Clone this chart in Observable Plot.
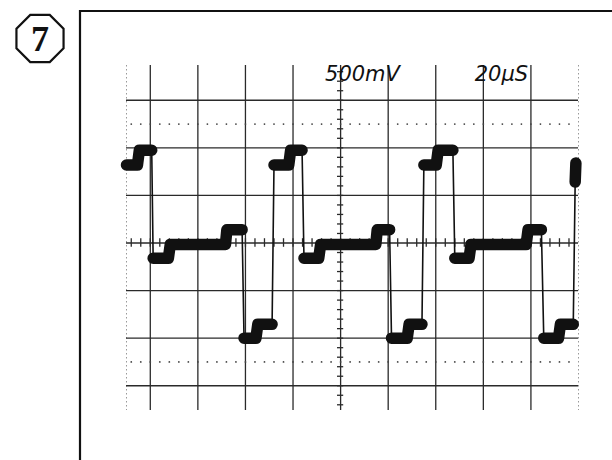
<!DOCTYPE html>
<html>
<head>
<meta charset="utf-8">
<script src="https://cdn.jsdelivr.net/npm/d3@7"></script>
<script src="https://cdn.jsdelivr.net/npm/@observablehq/plot@0.6"></script>
<style>
  html, body { margin: 0; padding: 0; background: #fff; }
  #chart { width: 612px; height: 460px; position: relative; }
</style>
</head>
<body>
<div id="chart"></div>
<script>
// Trace vertices: time in µs (20 µs/div, 0 = screen centre), voltage in mV (500 mV/div)
const traceTimeUs = [
  -90, -85.4, -84.6, -79.4, -78.8, -72.4, -71.6, -48.4, -47.8, -41.4, -40.6,
  -35.6, -34.8, -28.8, -28.0, -21.8, -21.0, -16.2, -15.4, -9.2, -8.4,
  14.8, 15.4, 20.6, 21.4, 28.0, 28.8, 34.2, 35.0, 40.2, 41.0, 47.2, 48.0,
  54.0, 54.8, 78.0, 78.8, 84.4, 85.4, 91.6, 92.4, 97.8, 98.6, 98.9
];
const traceVoltMv = [
  820, 820, 975, 975, -160, -160, -15, -15, 140, 140, -1000,
  -1000, -855, -855, 820, 820, 975, 975, -160, -160, -15,
  -15, 140, 140, -1000, -1000, -855, -855, 820, 820, 975, 975, -160,
  -160, -15, -15, 140, 140, -1000, -1000, -855, -855, 640, 840
];

// Graticule
const gridTimeUs = [-80, -60, -40, -20, 0, 20, 40, 60, 80];
const gridVoltMv = [-1500, -1000, -500, 0, 500, 1000, 1500];
const dottedVoltMv = [-1250, 1250];
const edgeTimeUs = [-90, 100];
const minorTimeUs = d3.range(-88, 100, 4);
const minorVoltMv = d3.range(-1700, 1900, 100);

// Readout labels
const readoutText = ["500mV", "20µS"];
const readoutTimeUs = [9.2, 67.6];
const readoutVoltMv = [1770, 1770];
const panelNumber = "7";

const rows = traceTimeUs.map((t, i) => ({t, v: traceVoltMv[i]}));
let run = 0;
const thickAll = rows.map((r, i) => {
  if (i > 0 && Math.abs(r.v - rows[i - 1].v) > 600) run++;
  return {...r, run};
});
const runSize = d3.rollup(thickAll, g => g.length, d => d.run);
const thickRows = thickAll.filter(d => runSize.get(d.run) > 1);
const readouts = readoutText.map((s, i) => ({s, t: readoutTimeUs[i], v: readoutVoltMv[i]}));
const dotted = dottedVoltMv.flatMap(v => minorTimeUs.map(t => ({t, v})));

const ink = "#111";
const grid = "#2a2a2a";

const chart = Plot.plot({
  width: 612,
  height: 460,
  marginLeft: 126,
  marginRight: 34,
  marginTop: 65,
  marginBottom: 50,
  x: {domain: [-90, 100], axis: null},
  y: {domain: [-1760, 1865], axis: null},
  style: {background: "#fff", overflow: "visible"},
  marks: [
    Plot.ruleX(edgeTimeUs, {stroke: "#999", strokeWidth: 1, strokeDasharray: "1.5,2.5"}),
    Plot.ruleX(gridTimeUs, {stroke: grid, strokeWidth: 1.3}),
    Plot.ruleY(gridVoltMv, {stroke: grid, strokeWidth: 1.3}),
    Plot.dot(dotted, {x: "t", y: "v", r: 0.9, fill: "#444", stroke: null}),
    Plot.ruleX(minorTimeUs, {y1: -45, y2: 45, stroke: grid, strokeWidth: 1.3}),
    Plot.ruleY(minorVoltMv, {x1: -1.3, x2: 1.3, stroke: grid, strokeWidth: 1.3}),
    Plot.line(rows, {x: "t", y: "v", stroke: ink, strokeWidth: 1.6}),
    Plot.line(thickRows, {x: "t", y: "v", z: "run", stroke: ink, strokeWidth: 11.5,
      strokeLinejoin: "round", strokeLinecap: "round"}),
    Plot.text(readouts, {x: "t", y: "v", text: "s", fontSize: 21, fontStyle: "italic",
      fontFamily: "DejaVu Sans", fill: ink, textAnchor: "middle"})
  ]
});

document.getElementById("chart").appendChild(chart);

// Decorative panel frame and numbered octagon
const svg = d3.select(chart);
svg.append("path")
  .attr("d", "M80,460 V11 H612")
  .attr("fill", "none").attr("stroke", ink).attr("stroke-width", 2.2);
const cx = 40, cy = 38.5, R = 25.5;
const oct = d3.range(8).map(k => {
  const a = Math.PI / 8 + k * Math.PI / 4;
  return [cx + R * Math.cos(a), cy + R * Math.sin(a)];
});
svg.append("polygon")
  .attr("points", oct.map(p => p.join(",")).join(" "))
  .attr("fill", "none").attr("stroke", ink).attr("stroke-width", 2.2);
svg.append("text")
  .attr("x", cx).attr("y", cy + 12)
  .attr("text-anchor", "middle")
  .attr("font-family", "Liberation Serif")
  .attr("font-weight", "bold")
  .attr("font-size", 36)
  .attr("fill", ink)
  .text(panelNumber);
</script>
</body>
</html>
